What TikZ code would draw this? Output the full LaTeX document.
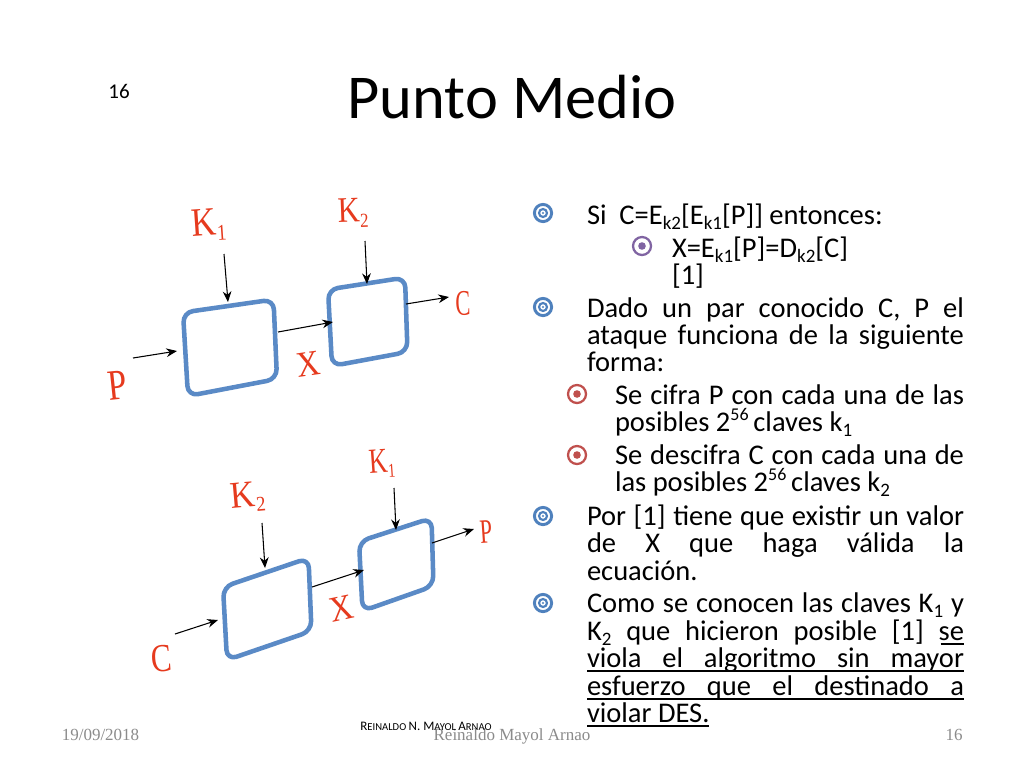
\documentclass[tikz,border=0pt]{standalone}
\usepackage{fontspec}
\usetikzlibrary{arrows.meta}
\setmainfont{Carlito}
\newfontfamily\serifx{Liberation Serif}
\definecolor{bblue}{HTML}{4F81BD}
\definecolor{bpurple}{HTML}{8064A2}
\definecolor{bred}{HTML}{C0504D}
\definecolor{boxblue}{HTML}{5A8AC6}
\definecolor{lblred}{HTML}{E63A1E}
\definecolor{footgray}{HTML}{8B8B8B}
\newdimen\pxu \pxu=0.75pt
\newcommand{\pxfont}[1]{\fontsize{#1\pxu}{#1\pxu}\selectfont}
\newcommand{\J}[1]{\makebox[377\pxu][s]{#1}}
\newcommand{\JJ}[1]{\makebox[349\pxu][s]{#1}}
\newcommand{\Sb}[1]{\raisebox{-0.2em}{\pxfont{19}#1}}
\newcommand{\Sp}[1]{\raisebox{0.36em}{\pxfont{18}#1}}
\tikzset{
  x=0.75pt,y=-0.75pt,
  body/.style={anchor=base west,inner sep=0pt,outer sep=0pt,font=\pxfont{28.5}},
  blockbox/.style={draw=boxblue,line width=3.4pt,rounded corners=7.5pt,line join=round},
  conn/.style={draw=black,line width=0.8pt,-{Stealth[length=8pt,width=6.5pt]}},
  redlbl/.style={text=lblred,inner sep=0pt,transform shape,font=\serifx\pxfont{36}},
  foot/.style={text=footgray,inner sep=0pt,anchor=base,font=\serifx\pxfont{17}},
  ringb/.style={draw=bblue,line width=2.2pt},
  ringp/.style={draw=bpurple,line width=1.7pt},
  ringr/.style={draw=bred,line width=1.7pt},
  ulrule/.style={draw=black,line width=1.2pt},
}
\newcommand{\blue}[2]{%
  \draw[ringb] (#1,#2) circle[radius=8.6];
  \draw[bblue,line width=1.6pt] (#1,#2) circle[radius=4];
  \fill[bblue] (#1,#2) circle[radius=1.1];}
\newcommand{\dotc}[4]{%
  \draw[#3] (#1,#2) circle[radius=9];
  \fill[#4] (#1,#2) circle[radius=3.8];}
\begin{document}
\begin{tikzpicture}
\useasboundingbox (0,0) rectangle (1024,768);
\fill[white] (0,0) rectangle (1024,768);
% title
\node[inner sep=0pt,font=\pxfont{62.4}] (title) at (512,97) {Punto Medio};
\node[inner sep=0pt,font=\pxfont{21}] (num) at (119,91) {16};
% boxes
\draw[blockbox] (183,312.5) coordinate (a1) -- (273.5,299.5) coordinate (a2) -- (277,379) coordinate (a3) -- (188,396) coordinate (a4) -- cycle;
\draw[blockbox] (328,289.5) coordinate (b1) -- (405,277.5) coordinate (b2) -- (407.5,352) coordinate (b3) -- (332,366) coordinate (b4) -- cycle;
\draw[blockbox] (223,587) coordinate (c1) -- (308.5,558) coordinate (c2) -- (311.5,631) coordinate (c3) -- (227,660) coordinate (c4) -- cycle;
\draw[blockbox] (359,541.5) coordinate (d1) -- (431.5,518) coordinate (d2) -- (433.5,586) coordinate (d3) -- (362.5,611) coordinate (d4) -- cycle;
% connector ends
\coordinate (p1s) at (133,358); \coordinate (p1e) at (177,351);
\coordinate (k1s) at (224,254); \coordinate (k1e) at (228,302);
\coordinate (x1s) at (278,332); \coordinate (x1e) at (333,322);
\coordinate (k2s) at (365,241); \coordinate (k2e) at (367,284);
\coordinate (c1s) at (406,304); \coordinate (c1e) at (449,297);
\coordinate (p2s) at (175,634); \coordinate (p2e) at (218,620);
\coordinate (k3s) at (262,523); \coordinate (k3e) at (265,568);
\coordinate (x2s) at (312,587); \coordinate (x2e) at (364,570);
\coordinate (k4s) at (394,488); \coordinate (k4e) at (396,530);
\coordinate (c2s) at (432,543); \coordinate (c2e) at (474,529);
\foreach \s/\e in {p1s/p1e,k1s/k1e,x1s/x1e,k2s/k2e,c1s/c1e,p2s/p2e,k3s/k3e,x2s/x2e,k4s/k4e,c2s/c2e}
  \draw[conn] (\s) -- (\e);
% red labels
\node[redlbl,rotate=4,xscale=0.95,yscale=1.12] (lk1) at (209,225) {K\raisebox{-0.15em}{\pxfont{20}1}};
\node[redlbl,rotate=2,xscale=.85,yscale=1] (lk2) at (353,213) {K\raisebox{-0.15em}{\pxfont{20}2}};
\node[redlbl,rotate=6,xscale=.95,yscale=1.2] (lp) at (117,385) {P};
\node[redlbl,rotate=8,xscale=.9,yscale=1] (lx) at (308,364) {X};
\node[redlbl,rotate=2,xscale=.62,yscale=1] (lc) at (463,303) {C};
\node[redlbl,rotate=5,xscale=.95,yscale=1.05] (lk3) at (248,497) {K\raisebox{-0.15em}{\pxfont{20}2}};
\node[redlbl,rotate=4,xscale=.72,yscale=.98] (lk4) at (382,464) {K\raisebox{-0.15em}{\pxfont{20}1}};
\node[redlbl,rotate=12,xscale=.9,yscale=1] (lx2) at (341,609) {X};
\node[redlbl,rotate=4,xscale=.62,yscale=.95] (lp2) at (486,532) {P};
\node[redlbl,rotate=5,xscale=.85,yscale=1.1] (lc2) at (162,659) {C};
% bullets
\blue{543}{213}
\blue{543}{307}
\blue{543}{516}
\blue{543}{603}
\dotc{642}{246}{ringp}{bpurple}
\dotc{577}{394}{ringr}{bred}
\dotc{577}{455}{ringr}{bred}
% body
\node[body] (t1) at (587,224) {Si\ \ C=E\Sb{k2}[E\Sb{k1}[P]] entonces:};
\node[body] (t2) at (672,257) {X=E\Sb{k1}[P]=D\Sb{k2}[C]};
\node[body] (t3) at (672,284) {[1]};
\node[body] (t4) at (587,317) {\J{Dado un par conocido C, P el}};
\node[body] (t5) at (587,344) {\J{ataque funciona de la siguiente}};
\node[body] (t6) at (587,371) {forma:};
\node[body] (t7) at (615,404) {\JJ{Se cifra P con cada una de las}};
\node[body] (t8) at (615,431) {posibles 2\Sp{56}\,claves k\Sb{1}};
\node[body] (t9) at (615,464) {\JJ{Se descifra C con cada una de}};
\node[body] (t10) at (615,491) {las posibles 2\Sp{56}\,claves k\Sb{2}};
\node[body] (t11) at (587,525) {\J{Por [1] tiene que existir un valor}};
\node[body] (t12) at (587,552) {\J{de X que haga válida la}};
\node[body] (t13) at (587,580) {ecuación.};
\node[body] (t14) at (587,612) {\J{Como se conocen las claves K\Sb{1} y}};
\node[body] (t15) at (587,640) {\J{K\Sb{2} que hicieron posible [1] se}};
\node[body] (t16) at (587,667) {\J{viola el algoritmo sin mayor}};
\node[body] (t17) at (587,695) {\J{esfuerzo que el destinado a}};
\node[body] (t18) at (587,722) {violar DES.};
\draw[ulrule] ([xshift=-17.5pt,yshift=-3.2pt]t15.base east) -- ([yshift=-3.2pt]t15.base east);
\draw[ulrule] ([yshift=-3.2pt]t16.base west) -- ([yshift=-3.2pt]t16.base east);
\draw[ulrule] ([yshift=-3.2pt]t17.base west) -- ([yshift=-3.2pt]t17.base east);
\draw[ulrule] ([yshift=-3.2pt]t18.base west) -- ([yshift=-3.2pt]t18.base east);
% footer
\node[foot] (f1) at (100.5,740) {19/09/2018};
\node[foot] (f2) at (512,740) {Reinaldo Mayol Arnao};
\node[foot] (f3) at (954,740) {16};
\node[inner sep=0pt,anchor=base,font=\pxfont{13}] (f4) at (426,730) {R\pxfont{10.6}EINALDO \pxfont{13}N. M\pxfont{10.6}AYOL \pxfont{13}A\pxfont{10.6}RNAO};
\end{tikzpicture}
\end{document}
